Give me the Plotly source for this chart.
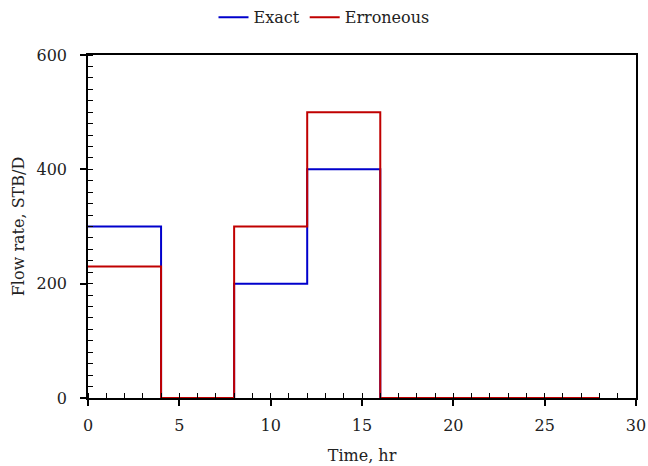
import plotly.graph_objects as go

times = [0, 4, 8, 12, 16, 28]
exact = [300, 0, 200, 400, 0, 0]
erroneous = [230, 0, 300, 500, 0, 0]

font_family = "DejaVu Serif"

fig = go.Figure()
fig.add_trace(go.Scatter(x=times, y=exact, mode="lines", name="Exact",
                         line=dict(color="#0000CC", width=2, shape="hv")))
fig.add_trace(go.Scatter(x=times, y=erroneous, mode="lines", name="Erroneous",
                         line=dict(color="#C00000", width=2, shape="hv")))

axis_common = dict(showgrid=False, zeroline=False, showline=True, linecolor="black",
                   linewidth=1.5, mirror=True, ticks="outside", ticklen=6, tickwidth=1.5,
                   tickcolor="black", automargin=False,
                   tickfont=dict(family=font_family, size=16, color="#222"))

fig.update_xaxes(range=[0, 30], dtick=5, ticklabelstandoff=6,
                 title=dict(text="Time, hr", font=dict(family=font_family, size=16, color="#222"), standoff=16),
                 minor=dict(dtick=1, ticks="inside", ticklen=5, tickcolor="black", tickwidth=1.2),
                 **axis_common)
fig.update_yaxes(range=[0, 600], dtick=200, ticklabelstandoff=10,
                 title=dict(text="Flow rate, STB/D", font=dict(family=font_family, size=16, color="#222"), standoff=8),
                 minor=dict(dtick=20, ticks="inside", ticklen=5, tickcolor="black", tickwidth=1.2),
                 **axis_common)

fig.update_layout(
    width=648, height=466,
    margin=dict(l=88, r=12, t=55, b=68, autoexpand=False),
    plot_bgcolor="white", paper_bgcolor="white",
    legend=dict(orientation="h", xref="container", x=0.5, xanchor="center", y=1.11, yanchor="middle",
                font=dict(family=font_family, size=16, color="#222")),
    font=dict(family=font_family),
)

fig.write_html("out.html", config={"displayModeBar": False},
               post_script="document.body.style.margin='0';")
